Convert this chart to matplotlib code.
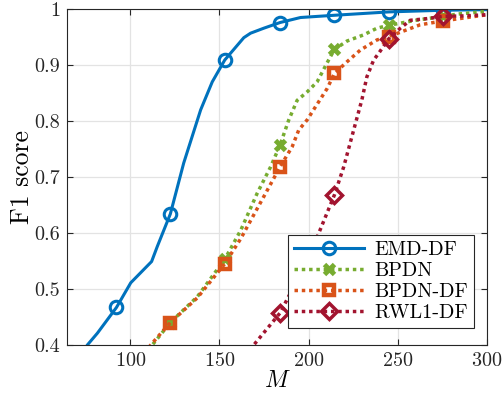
import numpy as np
import matplotlib
matplotlib.use('Agg')
import matplotlib.pyplot as plt

plt.rcParams['font.family'] = 'serif'
plt.rcParams['font.serif'] = ['cmr10']
plt.rcParams['mathtext.fontset'] = 'cm'
plt.rcParams['axes.formatter.use_mathtext'] = True

# M values where markers are drawn (shared by all curves)
MARK_M = [92.3, 122.5, 153, 184, 214.5, 245, 275.5]

# EMD-DF
emd_m = [70, 76, 81.6, 92.3, 100.3, 112, 115.2, 122.5, 130, 139.5, 146, 153, 163.7, 167.5, 175, 184, 195.5, 214.5, 245, 275.5, 300]
emd_f1 = [0.37, 0.40, 0.421, 0.467, 0.511, 0.549, 0.576, 0.634, 0.725, 0.820, 0.87, 0.909, 0.949, 0.957, 0.966, 0.976, 0.985, 0.989, 0.995, 0.998, 0.999]

# BPDN
bpdn_m = [108, 112.4, 122.5, 137.6, 153, 162, 171.2, 178.7, 184, 188.9, 193.6, 199.2, 204.8, 210.4, 214.5, 221.6, 230.9, 238.4, 245, 260, 275.5, 283.2, 300]
bpdn_f1 = [0.38, 0.40, 0.44, 0.486, 0.553, 0.605, 0.671, 0.718, 0.757, 0.802, 0.837, 0.852, 0.870, 0.904, 0.928, 0.943, 0.954, 0.966, 0.971, 0.98, 0.987, 0.991, 0.996]

# BPDN-DF
bpdndf_m = [108, 111.5, 122.5, 137.6, 153, 162, 168, 174.9, 184, 190.8, 194.5, 199.2, 205.2, 210.4, 214.5, 221.6, 229.1, 238.4, 245, 262.6, 275.5, 298, 300]
bpdndf_f1 = [0.385, 0.40, 0.44, 0.484, 0.545, 0.59, 0.625, 0.665, 0.718, 0.754, 0.784, 0.802, 0.832, 0.858, 0.885, 0.906, 0.927, 0.945, 0.951, 0.972, 0.979, 0.989, 0.99]

# RWL1-DF
rwl1_m = [165, 169.3, 184, 200, 214.5, 219.7, 225.3, 229.9, 232.7, 236.5, 239.3, 245, 251.5, 257, 266.4, 275.5, 288.8, 300]
rwl1_f1 = [0.38, 0.40, 0.457, 0.555, 0.668, 0.718, 0.784, 0.838, 0.879, 0.909, 0.921, 0.947, 0.966, 0.98, 0.983, 0.987, 0.988, 0.99]

labels = ['EMD-DF', 'BPDN', 'BPDN-DF', 'RWL1-DF']
colors = ['#0072BD', '#77AC30', '#D95319', '#A2142F']


def mark_idx(m):
    return [i for i, v in enumerate(m) if any(abs(v - k) < 0.01 for k in MARK_M)]


fig = plt.figure(figsize=(5.03, 3.96), dpi=100)
ax = fig.add_axes([0.133, 0.129, 0.835, 0.848])

dots = (0, (1, 1.1))
ax.plot(emd_m, emd_f1, '-', color=colors[0], lw=2.2, marker='o', ms=9,
        mfc='none', mew=2.2, markevery=mark_idx(emd_m), label=labels[0])
ax.plot(bpdn_m, bpdn_f1, linestyle=dots, color=colors[1], lw=2.5, marker='x', ms=6.5,
        mew=3.5, markevery=mark_idx(bpdn_m), label=labels[1])
ax.plot(bpdndf_m, bpdndf_f1, linestyle=dots, color=colors[2], lw=2.5, marker='s', ms=7,
        mfc='none', mew=3.2, markevery=mark_idx(bpdndf_m), label=labels[2])
ax.plot(rwl1_m, rwl1_f1, linestyle=dots, color=colors[3], lw=2.5, marker='D', ms=8,
        mfc='none', mew=2.5, markevery=mark_idx(rwl1_m), label=labels[3])

ax.set_xlim(64.5, 300)
ax.set_ylim(0.4, 1)
ax.set_xticks([100, 150, 200, 250, 300])
ax.set_yticks([0.4, 0.5, 0.6, 0.7, 0.8, 0.9, 1])
ax.set_yticklabels(['0.4', '0.5', '0.6', '0.7', '0.8', '0.9', '1'])
ax.grid(True, color='#e3e3e3', lw=0.9)
ax.set_axisbelow(True)
ax.tick_params(direction='in', top=True, right=True, labelsize=14.5, length=4, width=0.8,
               colors='#262626', pad=5)
for s in ax.spines.values():
    s.set_linewidth(0.8)
    s.set_color('#262626')

ax.set_xlabel('$M$', fontsize=17, labelpad=0)
ax.set_ylabel('F1 score', fontsize=18.5, labelpad=0)

leg = ax.legend(loc='lower right', fontsize=14.5, frameon=True, fancybox=False,
                framealpha=1, edgecolor='#262626', handlelength=3.5,
                borderpad=0.3, labelspacing=0.15, handletextpad=0.5,
                bbox_to_anchor=(0.993, 0.02))
leg.get_frame().set_linewidth(0.8)

fig.savefig('out.png', dpi=100)
